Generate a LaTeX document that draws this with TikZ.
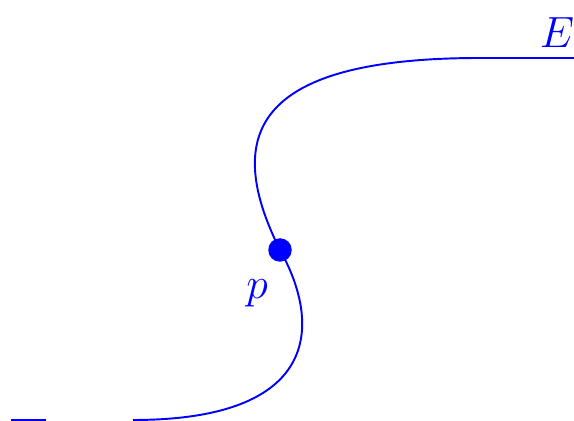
\documentclass[tikz,border=0pt]{standalone}
\usepackage{amsmath,amssymb}
\usetikzlibrary{positioning}

\begin{document}
\begin{tikzpicture}[
    x=0.02cm, y=-0.02cm,
    curve/.style={blue, line width=1.1pt},
    pointdot/.style={circle, fill=blue, inner sep=0pt, minimum size=0.47cm},
    lbl/.style={blue, font=\Huge},
]
    \useasboundingbox (0,0) rectangle (574,421);
    \node[pointdot] (pt) at (280,250) {};
    \node[lbl] (plabel) at (257,293) {$p$};
    \node[lbl] (elabel) at (557,33) {$E$};
    \coordinate (low) at (133,420);
    \coordinate (top) at (480,58);
    \coordinate (right) at (574,58);
    \coordinate (stubA) at (11,420);
    \coordinate (stubB) at (46,420);

    \draw[curve] (low) .. controls (320,420) and (322,325) .. (pt.center);
    \draw[curve] (pt.center) .. controls (220,130) and (260,58) .. (top) -- (right);
    \draw[curve] (stubA) -- (stubB);
\end{tikzpicture}
\end{document}
